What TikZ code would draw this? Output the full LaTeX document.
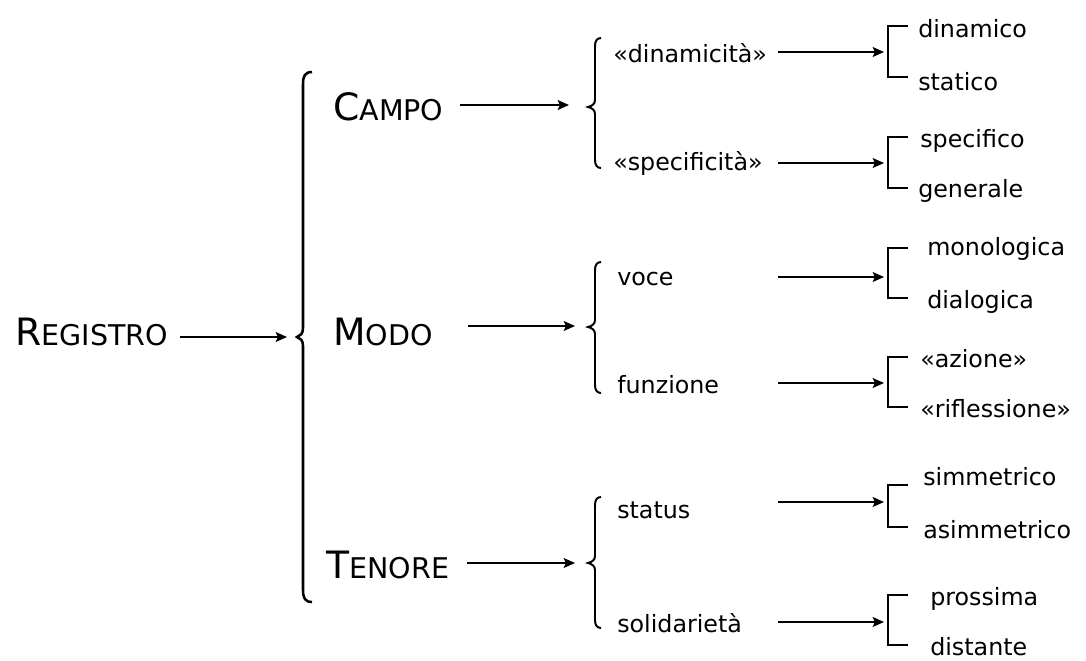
\documentclass[tikz,border=0pt]{standalone}
\usepackage{fontspec}
\setmainfont{DejaVu Sans}
\usetikzlibrary{arrows.meta}
\newcommand\mysc[2]{{\fontsize{26.8}{30}\selectfont #1}{\fontsize{20.3}{24}\selectfont #2}}
\newcommand\smbrace[3]{%
  \draw[sbrace] (601,#1) .. controls (597,#1) and (595,#1+3) .. (595,#1+8) -- (595,#3-7)
    .. controls (595,#3-3) and (592,#3-1) .. (588,#3)
    .. controls (592,#3+1) and (595,#3+3) .. (595,#3+7) -- (595,#2-8)
    .. controls (595,#2-3) and (597,#2) .. (601,#2);}
\newcommand\bracketx[2]{\draw[brk] (908,#1) -- (888,#1) -- (888,#2) -- (908,#2);}
\tikzset{
  big/.style={anchor=base west, inner sep=0pt},
  leaf/.style={anchor=base west, inner sep=0pt, font=\fontsize{16.9}{20}\selectfont},
  arr/.style={line width=1.2pt, -{Stealth[length=8pt,width=7pt,inset=1.5pt]}},
  sbrace/.style={line width=1.4pt},
  bbrace/.style={line width=1.8pt},
  brk/.style={line width=1.1pt},
}
\begin{document}
\begin{tikzpicture}[x=0.025cm, y=-0.025cm]
\useasboundingbox (0,0) rectangle (1086,660);
% level 0
\node[big] (reg) at (15,345) {\mysc{R}{EGISTRO}};
\coordinate (reg-s) at (180,337); \coordinate (reg-e) at (287,337);
\draw[arr] (reg-s) -- (reg-e);
\draw[bbrace] (312,72) .. controls (305,72) and (303,76) .. (303,84) -- (303,328)
  .. controls (303,334) and (300,336) .. (297,337)
  .. controls (300,338) and (303,340) .. (303,346) -- (303,590)
  .. controls (303,598) and (305,602) .. (312,602);
% level 1
\node[big] (campo) at (333,120) {\mysc{C}{AMPO}};
\node[big] (modo) at (333,345) {\mysc{M}{ODO}};
\node[big] (tenore) at (326,578) {\mysc{T}{ENORE}};
\coordinate (c-s) at (460,105); \coordinate (c-e) at (569,105);
\coordinate (m-s) at (468,326); \coordinate (m-e) at (575,326);
\coordinate (t-s) at (467,563); \coordinate (t-e) at (575,563);
\draw[arr] (c-s) -- (c-e);
\draw[arr] (m-s) -- (m-e);
\draw[arr] (t-s) -- (t-e);
\smbrace{38}{168}{107}
\smbrace{262}{393}{327}
\smbrace{497}{628}{563}
% level 2
\node[leaf] (din) at (613,62) {«dinamicità»};
\node[leaf] (spe) at (613,170) {«specificità»};
\node[leaf] (voc) at (617,285) {voce};
\node[leaf] (fun) at (617,393) {funzione};
\node[leaf] (sta) at (617,518) {status};
\node[leaf] (sol) at (617,632) {solidarietà};
\foreach \n/\y in {1/52,2/163,3/277,4/383,5/502,6/622}{
  \coordinate (a\n-s) at (778,\y); \coordinate (a\n-e) at (884,\y);
  \draw[arr] (a\n-s) -- (a\n-e);
}
\bracketx{26}{77}
\bracketx{137}{188}
\bracketx{248}{298}
\bracketx{357}{407}
\bracketx{485}{527}
\bracketx{595}{645}
% level 3
\node[leaf] (l1) at (918,37) {dinamico};
\node[leaf] (l2) at (918,90) {statico};
\node[leaf] (l3) at (920,147) {specifico};
\node[leaf] (l4) at (918,197) {generale};
\node[leaf] (l5) at (927,255) {monologica};
\node[leaf] (l6) at (927,308) {dialogica};
\node[leaf] (l7) at (920,367) {«azione»};
\node[leaf] (l8) at (920,417) {«riflessione»};
\node[leaf] (l9) at (923,485) {simmetrico};
\node[leaf] (l10) at (923,538) {asimmetrico};
\node[leaf] (l11) at (930,605) {prossima};
\node[leaf] (l12) at (930,655) {distante};
\end{tikzpicture}
\end{document}
